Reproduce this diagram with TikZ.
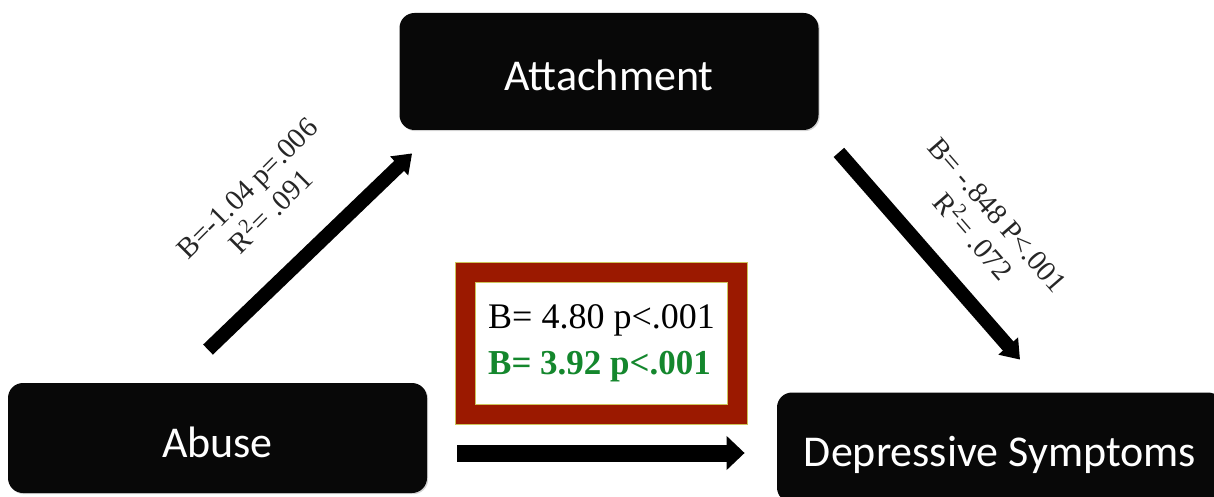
\documentclass[tikz,border=0pt]{standalone}
\usepackage{fontspec}
\setmainfont{Liberation Serif}
\newfontfamily\calibri{Carlito}
\usepackage{tikz}
\usetikzlibrary{shadows,arrows.meta,calc}
\definecolor{boxred}{RGB}{155,25,0}
\definecolor{boxedge}{RGB}{205,195,90}
\definecolor{coefgreen}{RGB}{20,135,45}
\tikzstyle{varbox} = [fill=black!97, text=white, rounded corners=7.5pt, minimum width=209.5pt, minimum height=55pt, text height=19pt, text depth=0pt, drop shadow={shadow xshift=0.6pt,shadow yshift=-0.6pt,opacity=0.35}, font=\calibri\fontsize{22}{26}\selectfont]
\tikzstyle{resultbox} = [draw=boxedge, line width=0.6pt, double=boxred, double distance=9.3pt, fill=white, minimum width=136pt, minimum height=71pt, align=left, font=\fontsize{18}{23}\selectfont]
\tikzstyle{arrow} = [draw, line width=7pt, -{Triangle[length=9pt,width=12.5pt]}]
\tikzstyle{bigarrow} = [draw, line width=8.5pt, -{Triangle[length=9pt,width=16.5pt]}]
\tikzstyle{coef} = [align=center, text=black!85, font=\fontsize{14.5}{16.5}\selectfont]
\newcommand{\varbox}[3]{node (v#1) [varbox,#2] {#3}}
\newcommand{\resultbox}[2]{node (r#1) [resultbox] {#2}}

\begin{document}
\begin{tikzpicture}[x=0.5pt,y=-0.5pt]
\path[use as bounding box,clip] (0,0) rectangle (1214,497);
\path (217.5,438) \varbox{1}{}{Abuse};
\path (v1)+(391.5,-366.5) \varbox{2}{minimum height=58.5pt}{Attachment};
\path (v1)+(782.5,9.5) \varbox{3}{minimum width=223pt}{Depressive Symptoms};
\path (601.5,343.5) \resultbox{1}{B= 4.80 p<.001\\{\color{coefgreen}\bfseries\fontsize{17.5}{23}\selectfont B= 3.92 p<.001}};

\draw[arrow] ($(v1.north)+(-9.5,-33)$) -- ($(v2.south west)+(13,23)$);
\draw[arrow] ($(v2.south east)+(20,22)$) -- ($(v3.north)+(20,-32.5)$);
\draw[bigarrow] ($(v1.east)+(30,15)$) -- ($(v3.west)+(-32,5.5)$);

\node[coef, rotate=45] (c1) at (259,200) {B=-1.04 p=.006\\R\textsuperscript{2}= .091};
\node[coef, rotate=-49] (c2) at (985,226) {B= -.848 P<.001\\R\textsuperscript{2}= .072};
\end{tikzpicture}
\end{document}
